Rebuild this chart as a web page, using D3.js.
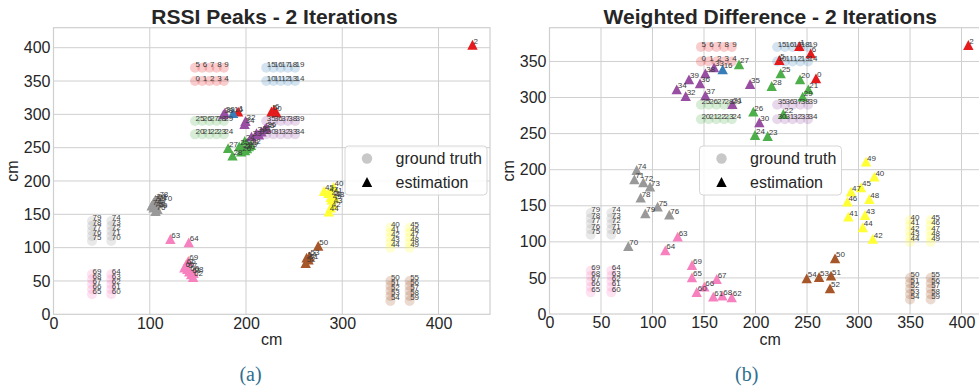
<!DOCTYPE html>
<html>
<head>
<meta charset="utf-8">
<script src="https://cdn.jsdelivr.net/npm/d3@7"></script>
<style>
  body { margin: 0; background: #fff; }
  text { font-family: "Liberation Sans", Arial, sans-serif; }
  text.caption { font-family: "Liberation Serif", "DejaVu Serif", serif; }
</style>
</head>
<body>
<svg id="fig" width="979" height="391"></svg>
<script>
// Colour of each tag group (ten tags per group)
const groupColors = ["#e41a1c", "#377eb8", "#4daf4a", "#984ea3", "#ffff33", "#a65628", "#f781bf", "#999999"];

// Ground-truth tag positions (cm), tags 0..79
const truthX = [
  147, 154.5, 162, 169.5, 177,  147, 154.5, 162, 169.5, 177,
  221, 228.5, 236, 243.5, 251,  221, 228.5, 236, 243.5, 251,
  147, 154.5, 162, 169.5, 177,  147, 154.5, 162, 169.5, 177,
  221, 228.5, 236, 243.5, 251,  221, 228.5, 236, 243.5, 251,
  350, 350, 350, 350, 350,  370, 370, 370, 370, 370,
  350, 350, 350, 350, 350,  370, 370, 370, 370, 370,
  60, 60, 60, 60, 60,  40, 40, 40, 40, 40,
  60, 60, 60, 60, 60,  40, 40, 40, 40, 40
];
const truthY = [
  350, 350, 350, 350, 350,  370, 370, 370, 370, 370,
  350, 350, 350, 350, 350,  370, 370, 370, 370, 370,
  270, 270, 270, 270, 270,  290, 290, 290, 290, 290,
  270, 270, 270, 270, 270,  290, 290, 290, 290, 290,
  130, 122.5, 115, 107.5, 100,  130, 122.5, 115, 107.5, 100,
  50, 42.5, 35, 27.5, 20,  50, 42.5, 35, 27.5, 20,
  30, 37.5, 45, 52.5, 60,  30, 37.5, 45, 52.5, 60,
  110, 117.5, 125, 132.5, 140,  110, 117.5, 125, 132.5, 140
];

// Estimated positions: RSSI peaks
const rssiIds = [2, 5, 0, 6, 1, 16,
  30, 38, 32, 34, 33, 39, 31, 37, 35, 36,
  27, 28, 26, 25, 24, 23, 29, 22, 20, 21,
  45, 40, 47, 41, 46, 49, 48, 43, 42, 44,
  50, 51, 52, 53, 54,
  63, 64, 69, 66, 65, 67, 60, 61, 68, 62,
  74, 78, 71, 70, 72, 77, 73, 75, 79, 76];
const rssiX = [435.3, 226.5, 231.5, 229, 191.8, 186.6,
  178, 176.5, 199.5, 198.5, 205.7, 210.9, 213.5, 216.1, 219.6, 221,
  181.4, 186, 195, 193, 198.7, 201, 203, 205, 199, 196,
  281, 291, 285.5, 290, 288, 289, 292, 290, 288, 286,
  275, 265, 262, 266, 263,
  121.4, 140.5, 140, 137.5, 136, 139, 141, 143, 145.5, 145,
  106, 109, 108, 113, 104, 102, 106, 104, 108, 106];
const rssiY = [404.4, 304.5, 303, 306.5, 304, 301.8,
  302, 300, 290, 285.5, 266.7, 271.8, 269.5, 274.2, 277.8, 280,
  249.2, 238, 244, 252, 260.3, 249, 252, 254, 246, 248,
  185, 191, 182, 180, 176, 172, 175, 165, 160, 154,
  102.6, 82, 77, 87, 85,
  113, 108, 80, 74, 70, 68, 64, 60, 62, 56,
  172, 174, 170, 168, 168, 163, 165, 160, 158, 155];

// Estimated positions: weighted difference
const wdIds = [2, 1, 6, 5, 0, 16,
  27, 25, 20, 28, 21, 29, 26, 22, 24, 23,
  33, 38, 39, 36, 34, 32, 37, 31, 35, 30,
  49, 40, 45, 47, 46, 48, 41, 43, 44, 42,
  50, 54, 53, 51, 52,
  63, 64, 69, 65, 67, 66, 60, 61, 68, 62,
  74, 71, 72, 73, 78, 75, 79, 76, 70];
const wdX = [406.6, 242.5, 253.6, 223.1, 258.7, 168.1,
  184, 224.4, 243.2, 215.7, 251.3, 245.8, 197.9, 227, 199.5, 211.8,
  159.7, 151.3, 135.4, 146.1, 123.5, 132.2, 151.3, 177.5, 194.7, 203.7,
  307.3, 315.4, 302.4, 292.7, 289.2, 310.5, 290.1, 306.3, 304.1, 313.8,
  277.2, 249.7, 261.7, 273.3, 272.3,
  124.4, 112.4, 138.3, 138.3, 162.3, 150.3, 142.9, 159, 167.8, 176.9,
  84.6, 82.4, 91.1, 97.6, 88.5, 105, 93, 116.3, 76.5];
const wdY = [372.8, 371.4, 361.3, 352, 326.6, 339.1,
  346.1, 333.6, 325.3, 316, 311.4, 301.2, 280.4, 277.2, 248.1, 246.7,
  341.9, 333.6, 325.3, 319.7, 311.4, 302.1, 303.1, 291, 318.8, 265.7,
  211.1, 190.3, 175.6, 169.5, 155.7, 159.4, 134.9, 137.2, 120.2, 104,
  77.2, 49.5, 51.3, 53.1, 35.6,
  107.2, 88.2, 67.9, 50.8, 48.5, 37.9, 30.5, 24, 25.4, 23.1,
  199.6, 186.7, 182.5, 176.5, 161.2, 148.7, 139.6, 137.7, 94.2];

// Tick values
const xTicksA = [0, 100, 200, 300, 400];
const yTicksA = [0, 50, 100, 150, 200, 250, 300, 350, 400];
const xTicksB = [0, 50, 100, 150, 200, 250, 300, 350, 400];
const yTicksB = [0, 50, 100, 150, 200, 250, 300, 350];

const titles = ["RSSI Peaks - 2 Iterations", "Weighted Difference - 2 Iterations"];
const captions = ["(a)", "(b)"];
const legendLabels = ["ground truth", "estimation"];

const svg = d3.select("#fig");
svg.append("rect").attr("width", 979).attr("height", 391).attr("fill", "#fff");

const gridColor = "#cfcfcf";
const textColor = "#262626";

function trianglePath(w, h) {
  return `M0,${-h}L${-w},${h}L${w},${h}Z`;
}

function drawPanel(cfg) {
  const x = d3.scaleLinear().domain([0, cfg.xMax]).range([cfg.left, cfg.right]);
  const y = d3.scaleLinear().domain([0, cfg.yMax]).range([cfg.bottom, cfg.top]);
  const g = svg.append("g");

  const clipId = "clip" + cfg.key;
  svg.append("clipPath").attr("id", clipId)
    .append("rect").attr("x", cfg.left).attr("y", cfg.top)
    .attr("width", cfg.right - cfg.left).attr("height", cfg.bottom - cfg.top);

  // grid
  g.selectAll(".gx").data(cfg.xTicks.filter(d => d > 0)).join("line")
    .attr("x1", d => x(d)).attr("x2", d => x(d))
    .attr("y1", cfg.top).attr("y2", cfg.bottom)
    .attr("stroke", gridColor).attr("stroke-width", 1);
  g.selectAll(".gy").data(cfg.yTicks.filter(d => d > 0)).join("line")
    .attr("x1", cfg.left).attr("x2", cfg.right)
    .attr("y1", d => y(d)).attr("y2", d => y(d))
    .attr("stroke", gridColor).attr("stroke-width", 1);
  g.append("rect").attr("x", cfg.left).attr("y", cfg.top)
    .attr("width", cfg.right - cfg.left).attr("height", cfg.bottom - cfg.top)
    .attr("fill", "none").attr("stroke", gridColor).attr("stroke-width", 1.2);

  // axes tick labels
  const ax = g.append("g").attr("transform", `translate(0,${cfg.bottom})`)
    .call(d3.axisBottom(x).tickValues(cfg.xTicks).tickSize(0).tickPadding(3).tickFormat(d3.format("d")));
  const ay = g.append("g").attr("transform", `translate(${cfg.left},0)`)
    .call(d3.axisLeft(y).tickValues(cfg.yTicks).tickSize(0).tickPadding(3).tickFormat(d3.format("d")));
  [ax, ay].forEach(a => {
    a.select(".domain").remove();
    a.selectAll("text").attr("font-size", 16).attr("fill", textColor);
  });

  // axis titles
  g.append("text").attr("x", (cfg.left + cfg.labelRight) / 2).attr("y", cfg.bottom + 31)
    .attr("text-anchor", "middle").attr("font-size", 16).attr("fill", textColor).text("cm");
  g.append("text").attr("transform", `translate(${cfg.left - 36},${(cfg.top + cfg.bottom) / 2}) rotate(-90)`)
    .attr("text-anchor", "middle").attr("font-size", 16).attr("fill", textColor).text("cm");

  // title
  g.append("text").attr("x", cfg.titleX).attr("y", 24)
    .attr("text-anchor", "middle").attr("font-size", 21).attr("font-weight", "bold")
    .attr("fill", textColor).text(cfg.title);

  // caption
  g.append("text").attr("class", "caption").attr("x", cfg.captionX).attr("y", 381)
    .attr("text-anchor", "middle").attr("font-size", 20)
    .attr("fill", "#2f6f8f").text(cfg.caption);

  const plot = g.append("g").attr("clip-path", `url(#${clipId})`);

  // ground truth
  const truth = truthX.map((v, i) => ({ id: i, x: v, y: truthY[i] }));
  plot.selectAll(".gt").data(truth).join("circle")
    .attr("cx", d => x(d.x)).attr("cy", d => y(d.y)).attr("r", 5)
    .attr("fill", d => groupColors[Math.floor(d.id / 10)]).attr("fill-opacity", 0.22);

  // estimates
  const est = cfg.ids.map((id, i) => ({ id, x: cfg.xs[i], y: cfg.ys[i] }));
  plot.selectAll(".est").data(est).join("path")
    .attr("d", trianglePath(5.2, 4.9))
    .attr("transform", d => `translate(${x(d.x)},${y(d.y)})`)
    .attr("fill", d => groupColors[Math.floor(d.id / 10)]);

  // point labels
  const labelFont = 8;
  plot.selectAll(".gtl").data(truth).join("text")
    .attr("x", d => x(d.x) + 0.5).attr("y", d => y(d.y) - 0.5)
    .attr("font-size", labelFont).attr("fill", "#3a3a3a").text(d => d.id);
  plot.selectAll(".estl").data(est).join("text")
    .attr("x", d => x(d.x) + 1).attr("y", d => y(d.y) - 1)
    .attr("font-size", labelFont).attr("fill", "#3a3a3a").text(d => d.id);

  // legend
  const lg = g.append("g").attr("transform", `translate(${cfg.legendX},146)`);
  lg.append("rect").attr("x", 0).attr("y", 0).attr("width", 142).attr("height", 49)
    .attr("rx", 3.5).attr("fill", "#fff").attr("fill-opacity", 0.85)
    .attr("stroke", "#d6d6d6").attr("stroke-width", 1);
  lg.append("circle").attr("cx", 22).attr("cy", 12.5).attr("r", 5.2).attr("fill", "#c8c8c8");
  lg.append("path").attr("d", trianglePath(5.2, 4.9)).attr("transform", "translate(22,36)").attr("fill", "#000");
  lg.append("text").attr("x", 50.5).attr("y", 18).attr("font-size", 16).attr("fill", textColor).text(legendLabels[0]);
  lg.append("text").attr("x", 50.5).attr("y", 41.5).attr("font-size", 16).attr("fill", textColor).text(legendLabels[1]);
}

drawPanel({
  key: "A", left: 53.5, right: 490, top: 27.7, bottom: 314.3, labelRight: 490,
  xMax: 453.5, yMax: 430, xTicks: xTicksA, yTicks: yTicksA,
  ids: rssiIds, xs: rssiX, ys: rssiY,
  title: titles[0], titleX: 274.5, caption: captions[0], captionX: 250.5, legendX: 345
});
drawPanel({
  key: "B", left: 549.5, right: 991, top: 27.7, bottom: 314, labelRight: 991,
  xMax: 428.6, yMax: 396.8, xTicks: xTicksB, yTicks: yTicksB,
  ids: wdIds, xs: wdX, ys: wdY,
  title: titles[1], titleX: 770.3, caption: captions[1], captionX: 746.7, legendX: 699.5
});
</script>
</body>
</html>
